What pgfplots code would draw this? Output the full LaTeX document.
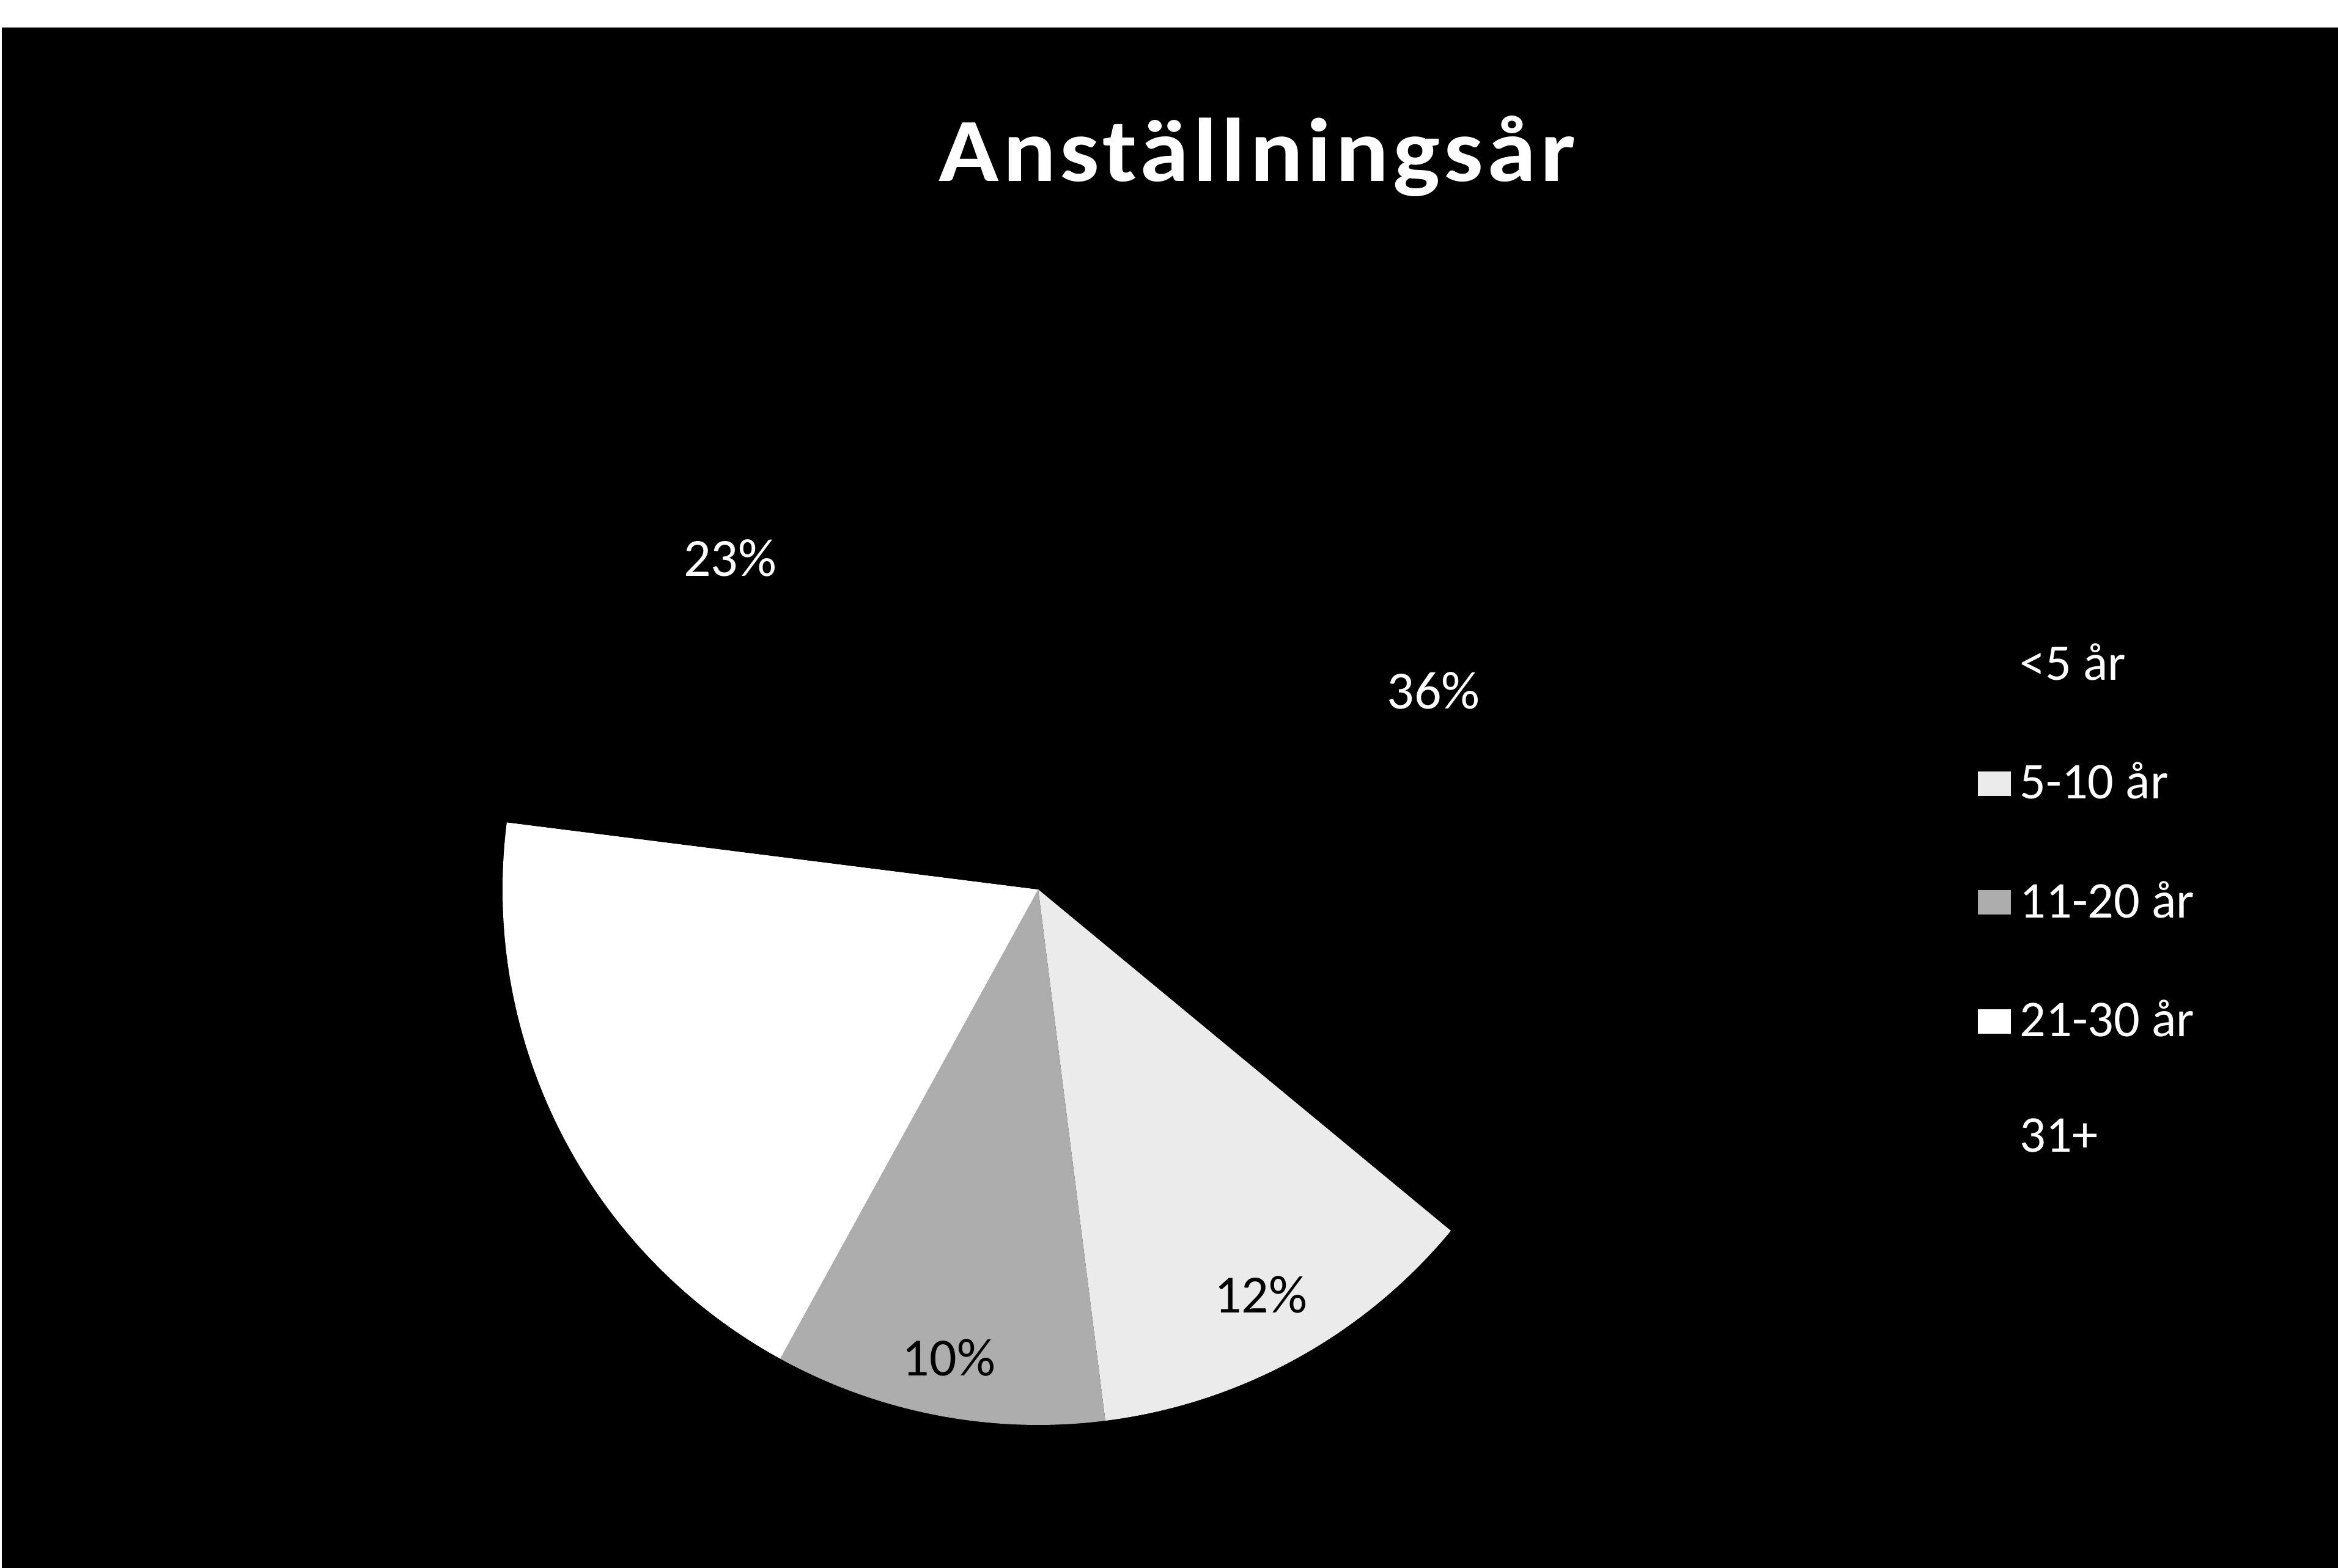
\documentclass[border=0pt]{standalone}
\usepackage{fontspec}
\setmainfont{Carlito}
\usepackage{graphicx}
\usepackage{pgfplots}
\pgfplotsset{compat=1.18}
% slice values (percent), in Excel order starting at 12 o'clock, clockwise
\def\va{36}% <5 år
\def\vb{12}% 5-10 år
\def\vc{10}% 11-20 år
\def\vd{19}% 21-30 år
\def\ve{23}% 31+
\pgfmathsetmacro\aA{90}
\pgfmathsetmacro\aB{\aA-3.6*\va}
\pgfmathsetmacro\aC{\aB-3.6*\vb}
\pgfmathsetmacro\aD{\aC-3.6*\vc}
\pgfmathsetmacro\aE{\aD-3.6*\vd}
\pgfmathsetmacro\aF{\aE-3.6*\ve}
\def\cx{8.49}\def\cy{5.55}\def\pr{4.38}
\definecolor{sliceB}{gray}{0.92}
\definecolor{sliceC}{gray}{0.68}
\definecolor{sliceD}{gray}{1.0}
\begin{document}
\begin{tikzpicture}
\fill[white] (0,0) rectangle (19.12cm,12.825cm);
\fill[black] (0.015cm,0) rectangle (19.12cm,12.6cm);
\begin{axis}[x=1cm,y=1cm,xmin=0,xmax=19.12,ymin=0,ymax=12.825,
  hide axis,clip=false,at={(0,0)},anchor=south west,
  legend image code/.code={\path[#1] (0cm,-0.1cm) rectangle (0.27cm,0.1cm);},
  legend style={draw=none,fill=none,text=white,
    font=\fontsize{12}{14}\selectfont,
    at={(axis cs:16.17,7.64)},anchor=north west,row sep=0.48cm,inner sep=0pt},
  legend cell align=left]
\fill[black] (axis cs:\cx,\cy) -- ++(\aA:\pr cm) arc[start angle=\aA, end angle=\aB, radius=\pr cm] -- cycle;
\fill[sliceB] (axis cs:\cx,\cy) -- ++(\aB:\pr cm) arc[start angle=\aB, end angle=\aC, radius=\pr cm] -- cycle;
\fill[sliceC] (axis cs:\cx,\cy) -- ++(\aC:\pr cm) arc[start angle=\aC, end angle=\aD, radius=\pr cm] -- cycle;
\fill[sliceD] (axis cs:\cx,\cy) -- ++(\aD:\pr cm) arc[start angle=\aD, end angle=\aE, radius=\pr cm] -- cycle;
\fill[black] (axis cs:\cx,\cy) -- ++(\aE:\pr cm) arc[start angle=\aE, end angle=\aF, radius=\pr cm] -- cycle;
\path (axis cs:\cx,\cy) ++({(\aA+\aB)/2+1.5}:3.62cm) node[text=white,font=\fontsize{12.5}{14}\selectfont]{\va\%};
\path (axis cs:\cx,\cy) ++({(\aB+\aC)/2}:3.78cm) node[text=black,font=\fontsize{12.5}{14}\selectfont]{\vb\%};
\path (axis cs:\cx,\cy) ++({(\aC+\aD)/2}:3.9cm) node[text=black,font=\fontsize{12.5}{14}\selectfont]{\vc\%};
\path (axis cs:\cx,\cy) ++({(\aE+\aF)/2+1.5}:3.7cm) node[text=white,font=\fontsize{12.5}{14}\selectfont]{\ve\%};
\node[text=white,font=\fontsize{21}{25}\selectfont\bfseries\addfontfeatures{LetterSpace=4}] at (axis cs:10.28,11.545) {\scalebox{1.1}[1]{Anställningsår}};
\addlegendimage{fill=black,draw=none}
\addlegendentry{<5 år}
\addlegendimage{fill=sliceB,draw=none}
\addlegendentry{5-10 år}
\addlegendimage{fill=sliceC,draw=none}
\addlegendentry{11-20 år}
\addlegendimage{fill=sliceD,draw=none}
\addlegendentry{21-30 år}
\addlegendimage{fill=black,draw=none}
\addlegendentry{31+}
\end{axis}
\end{tikzpicture}
\end{document}
